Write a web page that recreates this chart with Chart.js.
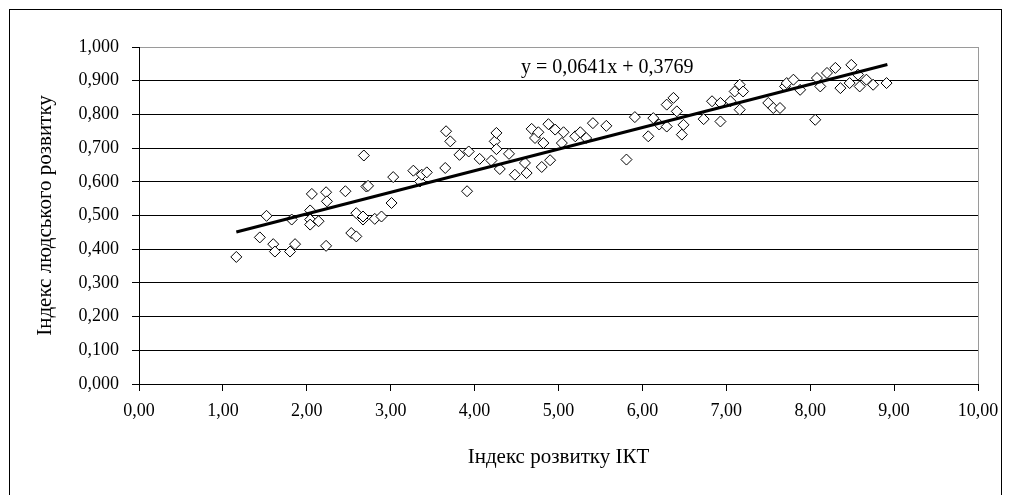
<!DOCTYPE html>
<html>
<head>
<meta charset="utf-8">
<script src="https://cdn.jsdelivr.net/npm/chart.js@4"></script>
<style>
    html, body { margin: 0; padding: 0; background: #fff; overflow: hidden; }
    #wrap { position: relative; width: 1011px; height: 495px; }
    #frame { position: absolute; left: 9px; top: 9px; width: 993px; height: 500px; border: 1px solid #000; box-sizing: border-box; pointer-events: none; }
</style>
</head>
<body>
<div id="wrap">
    <canvas id="ictChart"></canvas>
    <div id="frame"></div>
</div>
<script>
// --- data ---
const ictIndex = [
    1.16, 1.44, 1.52, 1.60, 1.62, 1.80, 1.82, 1.86, 2.04, 2.04,
    2.04, 2.06, 2.14, 2.23, 2.24, 2.23, 2.46, 2.53, 2.59, 2.59,
    2.67, 2.68, 2.71, 2.73, 2.67, 2.81, 2.89, 3.01, 3.03, 3.27,
    3.35, 3.37, 3.43, 3.65, 3.66, 3.71, 3.82, 3.91, 3.93, 4.06,
    4.20, 4.24, 4.26, 4.26, 4.30, 4.41, 4.48, 4.60, 4.62, 4.68,
    4.72, 4.76, 4.80, 4.82, 4.88, 4.90, 4.96, 5.04, 5.06, 5.20,
    5.26, 5.33, 5.41, 5.57, 5.81, 5.91, 6.07, 6.13, 6.20, 6.29,
    6.29, 6.37, 6.41, 6.47, 6.49, 6.73, 6.83, 6.93, 6.93, 7.05,
    7.10, 7.16, 7.16, 7.20, 7.50, 7.56, 7.64, 7.70, 7.72, 7.80,
    7.88, 8.06, 8.08, 8.12, 8.20, 8.30, 8.36, 8.47, 8.49, 8.57,
    8.59, 8.67, 8.75, 8.91
];
const hdiIndex = [
    0.377, 0.435, 0.499, 0.415, 0.393, 0.393, 0.488, 0.415, 0.515, 0.488,
    0.473, 0.564, 0.483, 0.569, 0.542, 0.410, 0.572, 0.448, 0.438, 0.507,
    0.488, 0.678, 0.586, 0.588, 0.497, 0.490, 0.497, 0.537, 0.614, 0.633,
    0.601, 0.621, 0.628, 0.641, 0.750, 0.720, 0.680, 0.572, 0.690, 0.668,
    0.663, 0.720, 0.745, 0.697, 0.638, 0.683, 0.621, 0.656, 0.626, 0.757,
    0.730, 0.747, 0.644, 0.715, 0.771, 0.664, 0.755, 0.715, 0.747, 0.735,
    0.747, 0.730, 0.774, 0.766, 0.666, 0.792, 0.735, 0.789, 0.770, 0.829,
    0.764, 0.849, 0.809, 0.740, 0.769, 0.786, 0.839, 0.834, 0.779, 0.839,
    0.868, 0.888, 0.814, 0.868, 0.834, 0.819, 0.819, 0.883, 0.893, 0.903,
    0.873, 0.784, 0.908, 0.883, 0.923, 0.938, 0.878, 0.893, 0.947, 0.918,
    0.883, 0.903, 0.888, 0.893
];
// linear trend (ends of the drawn line)
const trendX = [1.16, 8.92];
const trendY = [0.451, 0.948];
const trendLabel = 'y = 0,0641x + 0,3769';

const xTickLabels = ['0,00', '1,00', '2,00', '3,00', '4,00', '5,00', '6,00', '7,00', '8,00', '9,00', '10,00'];
const yTickLabels = ['0,000', '0,100', '0,200', '0,300', '0,400', '0,500', '0,600', '0,700', '0,800', '0,900', '1,000'];

const FONT = 'Liberation Serif, Times New Roman, serif';

// gray border of the plot area (right side) and the equation text
const plotFrame = {
    id: 'plotFrame',
    afterDatasetsDraw(chart) {
        const { ctx, chartArea: a, scales } = chart;
        ctx.save();
        ctx.strokeStyle = '#9a9a9a';
        ctx.lineWidth = 1;
        ctx.beginPath();
        ctx.moveTo(a.right + 0.5, a.top);
        ctx.lineTo(a.right + 0.5, a.bottom);
        ctx.stroke();

        ctx.fillStyle = '#000';
        ctx.font = '20px ' + FONT;
        ctx.textAlign = 'center';
        ctx.textBaseline = 'middle';
        ctx.fillText(trendLabel, scales.x.getPixelForValue(5.58), scales.y.getPixelForValue(0.938));
        ctx.restore();
    }
};

const points = ictIndex.map((x, i) => ({ x: x, y: hdiIndex[i] }));
const trend = trendX.map((x, i) => ({ x: x, y: trendY[i] }));

new Chart(document.getElementById('ictChart').getContext('2d'), {
    type: 'scatter',
    data: {
        datasets: [
            {
                label: 'trend',
                data: trend,
                showLine: true,
                borderColor: '#000',
                borderWidth: 3,
                pointRadius: 0,
                order: 0
            },
            {
                label: 'countries',
                data: points,
                pointStyle: 'rectRot',
                pointRadius: 5.5,
                backgroundColor: '#fff',
                borderColor: '#000',
                borderWidth: 1,
                order: 1
            }
        ]
    },
    options: {
        responsive: true,
        maintainAspectRatio: false,
        animation: false,
        layout: { padding: { left: 30, right: 33, top: 47, bottom: 20 } },
        plugins: {
            legend: { display: false },
            tooltip: { enabled: false }
        },
        scales: {
            x: {
                type: 'linear',
                min: 0,
                max: 10,
                afterFit: (s) => { s.height = 91; },
                border: { color: '#000', width: 1 },
                grid: { drawOnChartArea: false, drawTicks: true, tickLength: 7, tickColor: '#000' },
                ticks: {
                    stepSize: 1,
                    autoSkip: false,
                    maxRotation: 0,
                    padding: 9,
                    color: '#000',
                    font: { family: FONT, size: 18 },
                    callback: (v, i) => xTickLabels[i]
                },
                title: {
                    display: true,
                    text: 'Індекс розвитку ІКТ',
                    color: '#000',
                    font: { family: FONT, size: 21 },
                    padding: { top: 4, bottom: 5 }
                }
            },
            y: {
                min: 0,
                max: 1,
                afterFit: (s) => { s.width = 109; },
                border: { color: '#000', width: 1 },
                grid: {
                    color: (c) => (c.tick && Math.abs(c.tick.value - 1) < 1e-6) ? '#9a9a9a' : '#000',
                    tickColor: '#000',
                    tickLength: 7,
                    drawTicks: true
                },
                ticks: {
                    stepSize: 0.1,
                    autoSkip: false,
                    padding: 13,
                    color: '#000',
                    font: { family: FONT, size: 18 },
                    callback: (v, i) => yTickLabels[i]
                },
                title: {
                    display: true,
                    text: 'Індекс людського розвитку',
                    color: '#000',
                    font: { family: FONT, size: 21 },
                    padding: { top: 3, bottom: 4 }
                }
            }
        }
    },
    plugins: [plotFrame]
});
</script>
</body>
</html>
